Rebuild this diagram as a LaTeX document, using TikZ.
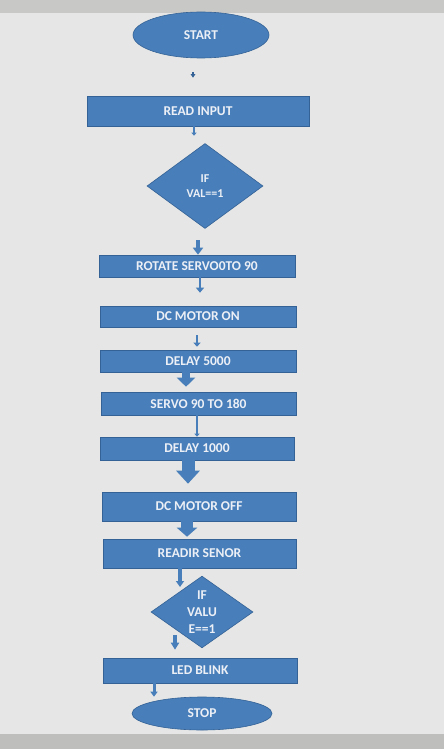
\documentclass[tikz,border=0pt]{standalone}
\usepackage{fontspec}
\setmainfont{Carlito}
\usetikzlibrary{shapes.geometric,arrows.meta}
\definecolor{flow}{RGB}{72,126,186}
\definecolor{flowdark}{RGB}{52,98,150}
\definecolor{paper}{RGB}{229,230,229}
\definecolor{band}{RGB}{200,200,198}
\definecolor{txt}{RGB}{236,240,246}
\tikzset{
  box/.style={rectangle, fill=flow, draw=flowdark, line width=0.6pt, inner sep=0pt,
    text=txt, font=\bfseries\fontsize{13.5}{15}\selectfont},
  term/.style={ellipse, fill=flow, draw=flowdark, line width=0.6pt, inner sep=0pt,
    text=txt, font=\bfseries\fontsize{13.5}{15}\selectfont},
  decide/.style={diamond, fill=flow, draw=flowdark, line width=0.6pt, inner sep=0pt,
    text=txt, align=center},
}
\begin{document}
\begin{tikzpicture}[x=1pt,y=-1pt]
\useasboundingbox (0,0) rectangle (444,749);
\fill[paper] (0,0) rectangle (444,749);
\fill[band] (0,0) rectangle (444,13);
\fill[band!95!black] (0,734) rectangle (444,749);

\node[term, minimum width=136pt, minimum height=46pt] (start) at (201,35) {START};
\node[box, minimum width=222pt, minimum height=30pt] (read) at (198,111) {READ INPUT};
\node[decide, minimum width=116pt, minimum height=85pt, font=\bfseries\fontsize{12}{15.5}\selectfont] (if1) at (205,186) {IF\\VAL==1};
\node[box, minimum width=196pt, minimum height=22pt] (rotate) at (197,266) {ROTATE SERVO0TO 90};
\node[box, minimum width=196pt, minimum height=21pt] (dcon) at (198,316.5) {DC MOTOR ON};
\node[box, minimum width=196pt, minimum height=22pt] (d5000) at (198,361) {DELAY 5000};
\node[box, minimum width=195pt, minimum height=23pt] (servo) at (198.5,403.5) {SERVO 90 TO 180};
\node[box, minimum width=194pt, minimum height=23pt] (d1000) at (197,448.5) {DELAY 1000};
\node[box, minimum width=194pt, minimum height=29pt] (dcoff) at (199,506.5) {DC MOTOR OFF};
\node[box, minimum width=193pt, minimum height=29pt] (readir) at (199.5,553.5) {READIR SENOR};
\node[decide, minimum width=102pt, minimum height=67pt, font=\bfseries\fontsize{13.5}{16.7}\selectfont] (if2) at (202,612) {IF\\VALU\\E==1};
\node[box, minimum width=194pt, minimum height=25pt] (led) at (200,670.5) {LED BLINK};
\node[term, minimum width=140pt, minimum height=33pt] (stop) at (202,713.5) {STOP};

% connectors
\draw[draw=flowdark, line width=1.5pt, -{Triangle[width=4.5pt,length=3.5pt]}, shorten <=14pt, shorten >=18pt]
  ([xshift=-8pt]start.south) coordinate (a1) -- (a1 |- read.north);
\draw[draw=flow, line width=2pt, -{Triangle[width=5pt,length=3pt]}, shorten >=7.5pt]
  ([xshift=-4pt]read.south) coordinate (a2) -- (a2 |- if1.north);
\draw[draw=flow, line width=3.5pt, -{Triangle[width=10pt,length=7pt]}, shorten <=11.5pt]
  ([xshift=-7pt]if1.south) coordinate (a3) -- (a3 |- rotate.north);
\draw[draw=flow, line width=2.5pt, -{Triangle[width=8pt,length=5pt]}, shorten >=13pt]
  ([xshift=3pt]rotate.south) coordinate (a4) -- (a4 |- dcon.north);
\draw[draw=flow, line width=2pt, -{Triangle[width=7pt,length=4pt]}, shorten <=8pt, shorten >=3pt]
  ([xshift=-1pt]dcon.south) coordinate (a5) -- (a5 |- d5000.north);
\draw[draw=flow, line width=8pt, -{Triangle[width=18pt,length=9pt]}, shorten >=5pt]
  ([xshift=-12pt]d5000.south) coordinate (a6) -- (a6 |- servo.north);
\draw[draw=flow, line width=1.5pt, -{Triangle[width=5pt,length=3pt]}]
  ([xshift=-1.5pt]servo.south) coordinate (a7) -- (a7 |- d1000.north);
\draw[draw=flow, line width=13pt, -{Triangle[width=23pt,length=13pt]}, shorten >=8pt]
  ([xshift=-9pt]d1000.south) coordinate (a8) -- (a8 |- dcoff.north);
\draw[draw=flow, line width=12pt, -{Triangle[width=20pt,length=9pt]}, shorten >=2pt]
  ([xshift=-12pt]dcoff.south) coordinate (a9) -- (a9 |- readir.north);
\draw[draw=flow, line width=4pt, -{Triangle[width=8pt,length=6pt]}, shorten >=25pt]
  ([xshift=-19.5pt]readir.south) coordinate (a10) -- (a10 |- if2.center);
\draw[draw=flow, line width=4pt, -{Triangle[width=8pt,length=7pt]}, shorten <=23pt, shorten >=8pt]
  (if2.center -| 175,0) coordinate (a11) -- (a11 |- led.north);
\draw[draw=flow, line width=3pt, -{Triangle[width=7pt,length=5pt]}]
  ([xshift=-46pt]led.south) coordinate (a12) -- (a12 |- stop.north);
\end{tikzpicture}
\end{document}
